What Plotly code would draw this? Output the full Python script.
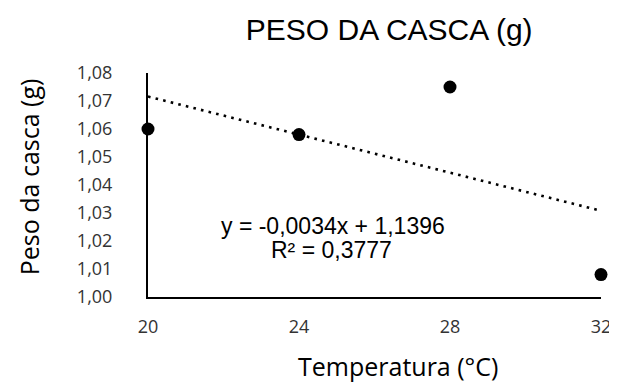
import plotly.graph_objects as go

temperatura = [20, 24, 28, 32]
peso_casca = [1.060, 1.058, 1.075, 1.008]
slope = -0.0034
intercept = 1.1396
equation_line1 = "y = -0,0034x + 1,1396"
equation_line2 = "R² = 0,3777"
x_ticks = [20, 24, 28, 32]

trend_x = [min(temperatura), max(temperatura)]
trend_y = [slope * x + intercept for x in trend_x]

fig = go.Figure()
fig.add_trace(go.Scatter(x=trend_x, y=trend_y, mode="lines",
                         line=dict(color="black", width=2.6, dash="2.6px,5.2px"),
                         showlegend=False, hoverinfo="skip"))
fig.add_trace(go.Scatter(x=temperatura, y=peso_casca, mode="markers",
                         marker=dict(color="black", size=13),
                         cliponaxis=False, showlegend=False))

eq_font = dict(family="Liberation Sans, Arial", size=23, color="black")
fig.add_annotation(x=0.408, y=0.317, xref="paper", yref="paper", text=equation_line1,
                   showarrow=False, font=eq_font, xanchor="center", yanchor="middle")
fig.add_annotation(x=0.404, y=0.210, xref="paper", yref="paper", text=equation_line2,
                   showarrow=False, font=eq_font, xanchor="center", yanchor="middle")

axis_title_font = dict(family="Open Sans", size=25, color="black")
fig.add_annotation(x=0.552, y=-0.31, xref="paper", yref="paper", text="Temperatura (°C)",
                   showarrow=False, font=axis_title_font, xanchor="center", yanchor="middle")
fig.add_annotation(x=-0.262, y=0.536, xref="paper", yref="paper", text="Peso da casca (g)",
                   showarrow=False, font=axis_title_font, textangle=-90,
                   xanchor="center", yanchor="middle")

fig.update_layout(
    width=609, height=377,
    margin=dict(l=140, r=16, t=65, b=88),
    paper_bgcolor="white", plot_bgcolor="white",
    separators=",.",
    title=dict(text="PESO DA CASCA (g)", x=0.626, xanchor="center", y=0.942, yanchor="middle",
               font=dict(family="Liberation Sans, Arial", size=30, color="black")),
    xaxis=dict(range=[20, 32], tickvals=x_ticks, showgrid=False, zeroline=False,
               automargin=False,
               showline=True, linecolor="black", linewidth=2,
               ticks="outside", ticklen=12, tickcolor="rgba(0,0,0,0)",
               tickfont=dict(family="Open Sans", size=18, color="#333333")),
    yaxis=dict(range=[1.00, 1.08], dtick=0.01, tickformat=".2f", showgrid=False, zeroline=False,
               automargin=False,
               showline=True, linecolor="black", linewidth=2,
               ticks="outside", ticklen=30, tickcolor="rgba(0,0,0,0)",
               tickfont=dict(family="Open Sans", size=18, color="#333333")),
)

fig.write_html("out.html")
